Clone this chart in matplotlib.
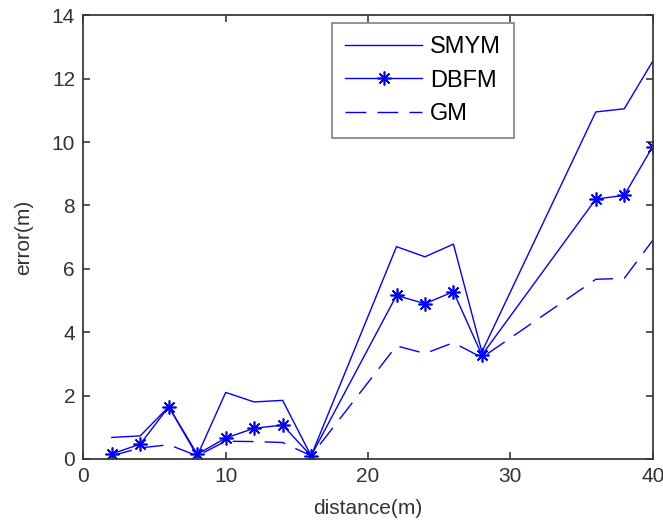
import numpy as np
import matplotlib
matplotlib.use('Agg')
import matplotlib.pyplot as plt

plt.rcParams['font.family'] = ['Liberation Sans', 'DejaVu Sans']

# measured positioning errors along the track
distance = [2, 4, 6, 8, 10, 12, 14, 16, 22, 24, 26, 28, 36, 38, 40]
smym = [0.68, 0.73, 1.65, 0.10, 2.10, 1.80, 1.85, 0.10, 6.70, 6.38, 6.78, 3.38, 10.95, 11.05, 12.55]
dbfm = [0.16, 0.47, 1.65, 0.15, 0.66, 0.97, 1.07, 0.10, 5.16, 4.90, 5.28, 3.28, 8.20, 8.32, 9.86]
gm = [0.10, 0.35, 0.45, 0.10, 0.56, 0.55, 0.52, 0.10, 3.57, 3.33, 3.67, 3.20, 5.67, 5.70, 6.90]

fig = plt.figure(figsize=(6.63, 5.22), dpi=100)
ax = fig.add_axes([0.1257, 0.1207, 0.8588, 0.85])

blue = '#0000ff'
ax.plot(distance, smym, color=blue, lw=1.0, label='SMYM')
# asterisk marker: plus and cross overlaid
ax.plot(distance, dbfm, color=blue, lw=1.0, marker=(8, 2, 0), markersize=10,
        markeredgewidth=1.2, label='DBFM')
ax.plot(distance, gm, color=blue, lw=1.0, linestyle=(0, (15, 8)), label='GM')

ax.set_xlim(0, 40)
ax.set_ylim(0, 14)
ax.set_xticks(np.arange(0, 41, 10))
ax.set_yticks(np.arange(0, 15, 2))

ax.set_xlabel('distance(m)', fontsize=15, color='#333333', labelpad=9)
ax.set_ylabel('error(m)', fontsize=15, color='#333333', labelpad=13)

for s in ax.spines.values():
    s.set_color('#3a3a3a')
    s.set_linewidth(1.3)
ax.tick_params(direction='in', length=5, width=1.2, color='#3a3a3a',
               labelsize=15, labelcolor='#333333', top=True, right=True, pad=6)

leg = ax.legend(loc='upper left', bbox_to_anchor=(0.437, 0.983), borderaxespad=0,
                fontsize=17, handlelength=3.26, labelspacing=0.5, handletextpad=0.33,
                fancybox=False, framealpha=1, borderpad=0.55)
leg.get_frame().set_edgecolor('#808080')
leg.get_frame().set_linewidth(1.2)

plt.savefig('out.png', dpi=100)
